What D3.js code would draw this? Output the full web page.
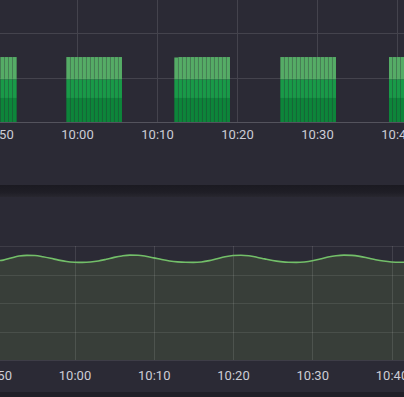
<!DOCTYPE html>
<html>
<head>
<meta charset="utf-8">
<script src="https://cdn.jsdelivr.net/npm/d3@7"></script>
<style>
  html, body { margin: 0; padding: 0; background: #2b2a35; overflow: hidden; }
  svg { display: block; }
</style>
</head>
<body>
<svg id="chart"></svg>
<script>
// top panel: stacked bars, one sample every 30s
var barTimes = [
  "09:49:30", "09:50:00", "09:50:30", "09:51:00", "09:51:30", "09:52:00",
  "09:58:40", "09:59:10", "09:59:40", "10:00:10", "10:00:40", "10:01:10", "10:01:40",
  "10:02:10", "10:02:40", "10:03:10", "10:03:40", "10:04:10", "10:04:40", "10:05:10",
  "10:12:10", "10:12:40", "10:13:10", "10:13:40", "10:14:10", "10:14:40", "10:15:10",
  "10:15:40", "10:16:10", "10:16:40", "10:17:10", "10:17:40", "10:18:10", "10:18:40",
  "10:25:25", "10:25:55", "10:26:25", "10:26:55", "10:27:25", "10:27:55", "10:28:25",
  "10:28:55", "10:29:25", "10:29:55", "10:30:25", "10:30:55", "10:31:25", "10:31:55",
  "10:39:00", "10:39:30", "10:40:00", "10:40:30"
]
var lowValues = [
  27, 27, 27, 27, 27, 27,
  27, 27, 27, 27, 27, 27, 27, 27, 27, 27, 27, 27, 27, 27,
  27, 27, 27, 27, 27, 27, 27, 27, 27, 27, 27, 27, 27, 27,
  27, 27, 27, 27, 27, 27, 27, 27, 27, 27, 27, 27, 27, 27,
  27, 27, 27, 27
]
var midValues = [
  21, 21, 21, 21, 21, 21,
  21, 21, 21, 21, 21, 21, 21, 21, 21, 21, 21, 21, 21, 21,
  21, 21, 21, 21, 21, 21, 21, 21, 21, 21, 21, 21, 21, 21,
  21, 21, 21, 21, 21, 21, 21, 21, 21, 21, 21, 21, 21, 21,
  21, 21, 21, 21
]
var highValues = [
  25, 25, 25, 25, 25, 25,
  25, 25, 25, 25, 25, 25, 25, 25, 25, 25, 25, 25, 25, 25,
  24.5, 25, 25, 25, 25, 25, 25, 25, 25, 25, 25, 25, 25, 25,
  25, 25, 25, 25, 25, 25, 25, 25, 25, 25, 25, 25, 25, 25,
  25, 25, 25, 25
]

// bottom panel: one sample per minute
var lineTimes = [
  "09:50", "09:51", "09:52", "09:53", "09:54", "09:55", "09:56", "09:57", "09:58", "09:59",
  "10:00", "10:01", "10:02", "10:03", "10:04", "10:05", "10:06", "10:07", "10:08", "10:09",
  "10:10", "10:11", "10:12", "10:13", "10:14", "10:15", "10:16", "10:17", "10:18", "10:19",
  "10:20", "10:21", "10:22", "10:23", "10:24", "10:25", "10:26", "10:27", "10:28", "10:29",
  "10:30", "10:31", "10:32", "10:33", "10:34", "10:35", "10:36", "10:37", "10:38", "10:39",
  "10:40", "10:41", "10:42"
]
var lineValues = [
  87.0, 87.6, 89.5, 91.2, 91.8, 91.6, 90.6, 89.2, 87.6, 86.4,
  85.8, 85.6, 85.9, 86.8, 88.3, 90.0, 91.3, 92.0, 91.9, 91.0,
  89.6, 88.1, 86.9, 86.1, 85.7, 85.6, 86.0, 87.2, 88.9, 90.5,
  91.6, 91.9, 91.4, 90.2, 88.7, 87.3, 86.3, 85.7, 85.6, 86.0,
  87.0, 88.6, 90.3, 91.5, 92.0, 91.8, 90.9, 89.5, 88.0, 86.8,
  86.0, 85.7, 85.7
]

var topYTicks = [0, 50, 100]
var botYTicks = [0, 25, 50, 75, 100]

var width = 404
var height = 397

var parseSec = d3.timeParse("%H:%M:%S")
var parseMin = d3.timeParse("%H:%M")

var svg = d3.select("#chart")
    .attr("width", width)
    .attr("height", height)

// panel chrome
svg.append("rect").attr("width", width).attr("height", height).attr("fill", "#2b2a35")

var grad = svg.append("defs").append("linearGradient")
    .attr("id", "gap").attr("x1", 0).attr("x2", 0).attr("y1", 0).attr("y2", 1)
grad.append("stop").attr("offset", "0%").attr("stop-color", "#1b1a21")
grad.append("stop").attr("offset", "60%").attr("stop-color", "#1f1e26")
grad.append("stop").attr("offset", "100%").attr("stop-color", "#28272f")
svg.append("rect").attr("x", 0).attr("y", 185).attr("width", width).attr("height", 12)
    .attr("fill", "url(#gap)")
svg.append("rect").attr("x", 0).attr("y", 392).attr("width", width).attr("height", 5)
    .attr("fill", "#201f27")

var gridColor = "#44434d"
var textColor = "#cdcdd6"

// ---------- top panel ----------
var xTop = d3.scaleTime()
    .domain([parseMin("09:50"), parseMin("10:40")])
    .range([-3, 397])
var yTop = d3.scaleLinear().domain([0, 100]).range([122, 33])

var topPanel = svg.append("g")

topPanel.selectAll(".vgrid")
  .data(xTop.ticks(d3.timeMinute.every(10)))
  .enter()
    .append("line")
    .attr("x1", d => Math.round(xTop(d)) + 0.5)
    .attr("x2", d => Math.round(xTop(d)) + 0.5)
    .attr("y1", 0)
    .attr("y2", yTop(0))
    .attr("stroke", gridColor)

topPanel.selectAll(".hgrid")
  .data(topYTicks)
  .enter()
    .append("line")
    .attr("x1", 0)
    .attr("x2", width)
    .attr("y1", d => Math.round(yTop(d)) + 0.5)
    .attr("y2", d => Math.round(yTop(d)) + 0.5)
    .attr("stroke", d => d === 0 ? "#54535d" : gridColor)

var barRows = barTimes.map((t, i) => ({
  time: parseSec(t),
  low: lowValues[i],
  mid: midValues[i],
  high: highValues[i]
}))

var stack = d3.stack().keys(["low", "mid", "high"])
var barColor = d3.scaleOrdinal()
    .domain(["low", "mid", "high"])
    .range(["#0d853a", "#199a48", "#55ac66"])

topPanel.selectAll(".layer")
  .data(stack(barRows))
  .enter()
    .append("g")
    .attr("fill", d => barColor(d.key))
  .selectAll("rect")
  .data(d => d)
  .enter()
    .append("rect")
    .attr("x", d => xTop(d.data.time))
    .attr("width", d => xTop(d3.timeSecond.offset(d.data.time, 30)) - xTop(d.data.time) - 0.35)
    .attr("y", d => yTop(d[1]))
    .attr("height", d => yTop(d[0]) - yTop(d[1]))

topPanel.append("g")
    .attr("transform", "translate(0," + yTop(0) + ")")
    .call(d3.axisBottom(xTop)
      .ticks(d3.timeMinute.every(10))
      .tickFormat(d3.timeFormat("%H:%M"))
      .tickSize(0)
      .tickPadding(8))
    .call(g => g.select(".domain").remove())
    .selectAll("text")
    .attr("fill", textColor)
    .attr("font-family", "Roboto, sans-serif")
    .attr("font-size", 13)

// ---------- bottom panel ----------
var xBot = d3.scaleTime()
    .domain([parseMin("09:50"), parseMin("10:40")])
    .range([-4.75, 391.5])
var yBot = d3.scaleLinear().domain([0, 100]).range([360, 246])

var botPanel = svg.append("g")

var linePoints = lineTimes.map((t, i) => ({ time: parseMin(t), value: lineValues[i] }))

botPanel.append("path")
    .datum(linePoints)
    .attr("fill", "#383e39")
    .attr("d", d3.area()
      .x(d => xBot(d.time))
      .y0(yBot(0))
      .y1(d => yBot(d.value))
      .curve(d3.curveMonotoneX))

botPanel.selectAll(".vgrid")
  .data(xBot.ticks(d3.timeMinute.every(10)))
  .enter()
    .append("line")
    .attr("x1", d => Math.round(xBot(d)) + 0.5)
    .attr("x2", d => Math.round(xBot(d)) + 0.5)
    .attr("y1", yBot(100))
    .attr("y2", yBot(0))
    .attr("stroke", "rgba(255,255,255,0.11)")

botPanel.selectAll(".hgrid")
  .data(botYTicks)
  .enter()
    .append("line")
    .attr("x1", 0)
    .attr("x2", width)
    .attr("y1", d => Math.round(yBot(d)) + 0.5)
    .attr("y2", d => Math.round(yBot(d)) + 0.5)
    .attr("stroke", "rgba(255,255,255,0.09)")

botPanel.append("path")
    .datum(linePoints)
    .attr("fill", "none")
    .attr("stroke", "#73bf69")
    .attr("stroke-width", 1.6)
    .attr("d", d3.line()
      .x(d => xBot(d.time))
      .y(d => yBot(d.value))
      .curve(d3.curveMonotoneX))

botPanel.append("g")
    .attr("transform", "translate(0," + yBot(0) + ")")
    .call(d3.axisBottom(xBot)
      .ticks(d3.timeMinute.every(10))
      .tickFormat(d3.timeFormat("%H:%M"))
      .tickSize(0)
      .tickPadding(11))
    .call(g => g.select(".domain").remove())
    .selectAll("text")
    .attr("fill", textColor)
    .attr("font-family", "Roboto, sans-serif")
    .attr("font-size", 13)
</script>
</body>
</html>
